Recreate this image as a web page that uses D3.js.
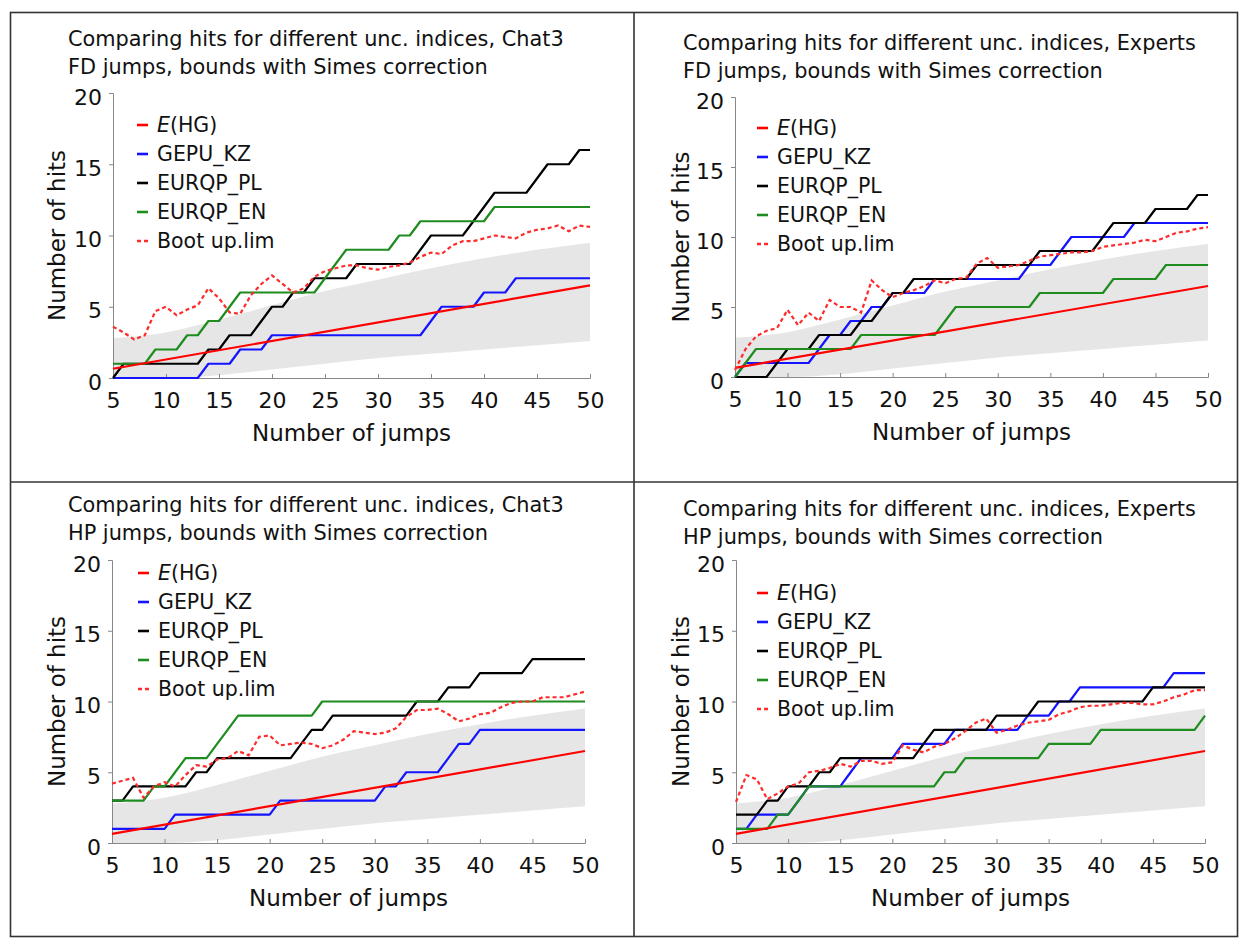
<!DOCTYPE html>
<html><head><meta charset="utf-8">
<script src="https://cdn.jsdelivr.net/npm/d3@7"></script>
<style>
body{margin:0;background:#fff}
svg{display:block}
text{font-family:"DejaVu Sans",Verdana,sans-serif;fill:#111}
</style></head>
<body><svg id="c" width="1241" height="939"></svg>
<script>
// ---------- data ----------
const jumps = d3.range(5, 51); // 5..50
const xTicks = [5,10,15,20,25,30,35,40,45,50];
const yTicks = [0,5,10,15,20];
const seriesNames = ["E(HG)","GEPU_KZ","EURQP_PL","EURQP_EN","Boot up.lim"];

const titles = [
  ["Comparing hits for different unc. indices, Chat3","FD jumps, bounds with Simes correction"],
  ["Comparing hits for different unc. indices, Experts","FD jumps, bounds with Simes correction"],
  ["Comparing hits for different unc. indices, Chat3","HP jumps, bounds with Simes correction"],
  ["Comparing hits for different unc. indices, Experts","HP jumps, bounds with Simes correction"]
];

// expected hits (straight line)
const ehgX = [5, 50];
const ehgY = [0.65, 6.5];

// bootstrap band (grey)
const bandX     = [5,10,15,20,25,30,35,40,45,50];
const bandUpper = [2.8,3.2,4.1,5.1,6.1,6.9,7.7,8.4,9.0,9.5];
const bandLower = [0,0,0.2,0.6,1.0,1.4,1.7,2.0,2.3,2.6];

// Panel 1: Chat3, FD
const p1Gepu  = [0,0,0,0,0,0,0,0,0,1,1,1,2,2,2,3,3,3,3,3,3,3,3,3,3,3,3,3,3,3,4,5,5,5,5,6,6,6,7,7,7,7,7,7,7,7];
const p1Pl    = [0,1,1,1,1,1,1,1,1,2,2,3,3,3,4,5,5,6,6,7,7,7,7,8,8,8,8,8,8,9,10,10,10,10,11,12,13,13,13,13,14,15,15,15,16,16];
const p1En    = [1,1,1,1,2,2,2,3,3,4,4,5,6,6,6,6,6,6,6,6,7,8,9,9,9,9,9,10,10,11,11,11,11,11,11,11,12,12,12,12,12,12,12,12,12,12];
const p1Boot  = [3.6,3.2,2.7,3.0,4.7,5.0,4.4,4.8,5.1,6.3,5.6,4.6,4.5,5.8,6.6,7.2,6.6,6.0,6.3,7.1,7.5,7.7,7.9,7.9,7.7,7.6,7.8,7.9,8.1,8.5,8.8,8.7,9.3,9.6,9.6,9.8,10.0,9.9,9.8,10.2,10.4,10.5,10.7,10.3,10.7,10.6];

// Panel 2: Experts, FD
const p2Gepu  = [0,1,1,1,1,1,1,1,2,3,3,4,4,5,5,6,6,6,6,7,7,7,7,7,7,7,7,7,8,8,8,9,10,10,10,10,10,10,11,11,11,11,11,11,11,11];
const p2Pl    = [0,0,0,0,1,2,2,2,3,3,3,3,4,4,5,6,6,7,7,7,7,7,7,8,8,8,8,8,8,9,9,9,9,9,9,10,11,11,11,11,12,12,12,12,13,13];
const p2En    = [0,1,2,2,2,2,2,2,2,2,2,2,3,3,3,3,3,3,3,3,4,5,5,5,5,5,5,5,5,6,6,6,6,6,6,6,7,7,7,7,7,8,8,8,8,8];
const p2Boot  = [0.5,2.0,2.9,3.3,3.5,4.8,3.7,4.6,4.0,5.5,5.0,5.0,4.6,6.9,6.2,5.7,6.0,6.2,6.5,6.9,6.7,7.0,7.1,8.1,8.5,7.8,7.9,8.0,8.3,8.6,8.7,8.8,8.9,8.9,9.0,9.3,9.4,9.5,9.6,9.8,9.7,10.0,10.3,10.4,10.6,10.7];

// Panel 3: Chat3, HP
const p3Gepu  = [1,1,1,1,1,1,2,2,2,2,2,2,2,2,2,2,3,3,3,3,3,3,3,3,3,3,4,4,5,5,5,5,6,7,7,8,8,8,8,8,8,8,8,8,8,8];
const p3Pl    = [3,3,4,4,4,4,4,4,5,5,6,6,6,6,6,6,6,6,7,8,8,9,9,9,9,9,9,9,9,10,10,10,11,11,11,12,12,12,12,12,13,13,13,13,13,13];
const p3En    = [3,3,3,3,4,4,5,6,6,6,7,8,9,9,9,9,9,9,9,9,10,10,10,10,10,10,10,10,10,10,10,10,10,10,10,10,10,10,10,10,10,10,10,10,10,10];
const p3Boot  = [4.2,4.4,4.6,3.2,4.0,4.3,4.0,4.8,5.5,5.4,5.9,6.0,6.5,6.2,7.5,7.6,6.9,7.0,7.1,7.0,6.7,6.9,7.3,7.9,7.8,7.7,7.8,8.1,8.9,9.4,9.4,9.5,9.1,8.6,8.8,9.1,9.2,9.6,9.9,10.0,10.0,10.3,10.3,10.3,10.5,10.7];

// Panel 4: Experts, HP
const p4Gepu  = [1,1,2,2,2,2,3,4,4,4,4,5,6,6,6,6,7,7,7,7,7,8,8,8,8,8,8,8,9,9,9,10,10,11,11,11,11,11,11,11,11,11,12,12,12,12];
const p4Pl    = [2,2,2,3,3,4,4,4,5,5,6,6,6,6,6,6,6,6,7,8,8,8,8,8,8,9,9,9,9,10,10,10,10,10,10,10,10,10,10,10,11,11,11,11,11,11];
const p4En    = [1,1,1,1,2,2,3,4,4,4,4,4,4,4,4,4,4,4,4,4,5,5,6,6,6,6,6,6,6,6,7,7,7,7,7,8,8,8,8,8,8,8,8,8,8,9];
const p4Boot  = [2.9,4.8,4.5,3.1,3.5,4.0,4.2,5.0,5.1,5.3,5.6,5.4,5.8,5.8,5.6,5.7,6.9,6.6,6.4,6.8,7.0,7.4,7.9,8.5,8.8,7.8,8.0,8.3,8.5,8.6,8.7,9.1,9.3,9.6,9.7,9.7,9.8,9.9,9.9,9.8,9.8,10.0,10.3,10.5,10.8,10.8];

// ---------- layout ----------
const colors = {ehg:"#ff0000", gepu:"#1414ff", pl:"#000000", en:"#1e8c1e", boot:"#ff2a2a"};
const panels = [
  {t:titles[0], gepu:p1Gepu, pl:p1Pl, en:p1En, boot:p1Boot, x0:113, x1:590, y0:378, y1:93,  tx:68,  ty:46,  lx:137, ly:125, ytx:57},
  {t:titles[1], gepu:p2Gepu, pl:p2Pl, en:p2En, boot:p2Boot, x0:735, x1:1208,y0:377, y1:97,  tx:683, ty:50,  lx:757, ly:128, ytx:681},
  {t:titles[2], gepu:p3Gepu, pl:p3Pl, en:p3En, boot:p3Boot, x0:112, x1:585, y0:843, y1:560, tx:68,  ty:512, lx:138, ly:573, ytx:57},
  {t:titles[3], gepu:p4Gepu, pl:p4Pl, en:p4En, boot:p4Boot, x0:736, x1:1205,y0:843, y1:560, tx:683, ty:516, lx:757, ly:593, ytx:681}
];

const svg = d3.select("#c");
svg.append("rect").attr("width",1241).attr("height",939).attr("fill","#fff");

// frame
const frame = svg.append("g").attr("fill","none").attr("stroke","#333").attr("stroke-width",1.6);
frame.append("rect").attr("x",10.5).attr("y",12.5).attr("width",1227).attr("height",924);
frame.append("line").attr("x1",634).attr("x2",634).attr("y1",12.5).attr("y2",936.5);
frame.append("line").attr("x1",10.5).attr("x2",1237.5).attr("y1",482).attr("y2",482);

// fit title font size
const probe = svg.append("text").attr("font-size",16).text(titles[0][0]);
const w16 = probe.node().getComputedTextLength();
probe.remove();
const titleSize = 16 * 496 / w16;

panels.forEach(p => {
  const g = svg.append("g");
  const x = d3.scaleLinear().domain([5,50]).range([p.x0,p.x1]);
  const y = d3.scaleLinear().domain([0,20]).range([p.y0,p.y1]);

  // titles
  p.t.forEach((s,i)=>{
    g.append("text").attr("x",p.tx).attr("y",p.ty+i*28).attr("font-size",titleSize).text(s);
  });

  // band
  const bandData = bandX.map((v,i)=>[v,bandLower[i],bandUpper[i]]);
  g.append("path").datum(bandData)
    .attr("fill","#e2e2e2").attr("opacity",0.85)
    .attr("d", d3.area().curve(d3.curveMonotoneX).x(d=>x(d[0])).y0(d=>y(d[1])).y1(d=>y(d[2])));

  // axes
  const ax = g.append("g").attr("transform",`translate(0,${p.y0})`)
    .call(d3.axisBottom(x).tickValues(xTicks).tickSize(-4).tickFormat(d3.format("d")));
  ax.select(".domain").attr("stroke","#888");
  ax.selectAll(".tick line").attr("stroke","#888");
  ax.selectAll(".tick text").attr("y",22).attr("dy","0.35em").attr("font-size",22)
    .attr("font-family",'"DejaVu Sans",Verdana,sans-serif').attr("fill","#111");

  const ay = g.append("g").attr("transform",`translate(${p.x0},0)`)
    .call(d3.axisLeft(y).tickValues(yTicks).tickSize(4).tickPadding(7).tickFormat(d3.format("d")));
  ay.select(".domain").attr("stroke","#888");
  ay.selectAll(".tick line").attr("stroke","#888");
  ay.selectAll(".tick text").attr("dy","0.5em").attr("font-size",22)
    .attr("font-family",'"DejaVu Sans",Verdana,sans-serif').attr("fill","#111");

  // axis titles
  g.append("text").attr("x",(p.x0+p.x1)/2).attr("y",p.y0+55).attr("dy","0.35em")
    .attr("text-anchor","middle").attr("font-size",23).text("Number of jumps");
  g.append("text").attr("transform",`translate(${p.ytx},${(p.y0+p.y1)/2}) rotate(-90)`)
    .attr("dy","0.35em").attr("text-anchor","middle").attr("font-size",23).text("Number of hits");

  const line = d3.line().x(d=>x(d[0])).y(d=>y(d[1]));
  const mk = arr => jumps.map((j,i)=>[j,arr[i]]);

  const lines = [
    {d:mk(p.gepu), c:colors.gepu},
    {d:mk(p.pl),   c:colors.pl},
    {d:mk(p.en),   c:colors.en},
    {d:ehgX.map((v,i)=>[v,ehgY[i]]), c:colors.ehg}
  ];
  lines.forEach(l=>{
    g.append("path").datum(l.d).attr("fill","none").attr("stroke",l.c)
      .attr("stroke-width",2.2).attr("stroke-linejoin","round").attr("d",line);
  });
  g.append("path").datum(mk(p.boot)).attr("fill","none").attr("stroke",colors.boot)
    .attr("stroke-width",2.2).attr("stroke-dasharray","4,3").attr("d",line);

  // legend
  const legColors = [colors.ehg, colors.gepu, colors.pl, colors.en, colors.boot];
  seriesNames.forEach((name,i)=>{
    const yy = p.ly + i*29;
    g.append("line").attr("x1",p.lx).attr("x2",p.lx+11).attr("y1",yy).attr("y2",yy)
      .attr("stroke",legColors[i]).attr("stroke-width",2.6)
      .attr("stroke-dasharray", i===4 ? "4,3" : null);
    const t = g.append("text").attr("x",p.lx+20).attr("y",yy).attr("dy","0.35em").attr("font-size",20.5);
    if (i===0){
      t.append("tspan").attr("font-style","italic").text("E");
      t.append("tspan").text("(HG)");
    } else t.text(name);
  });
});
</script></body></html>
